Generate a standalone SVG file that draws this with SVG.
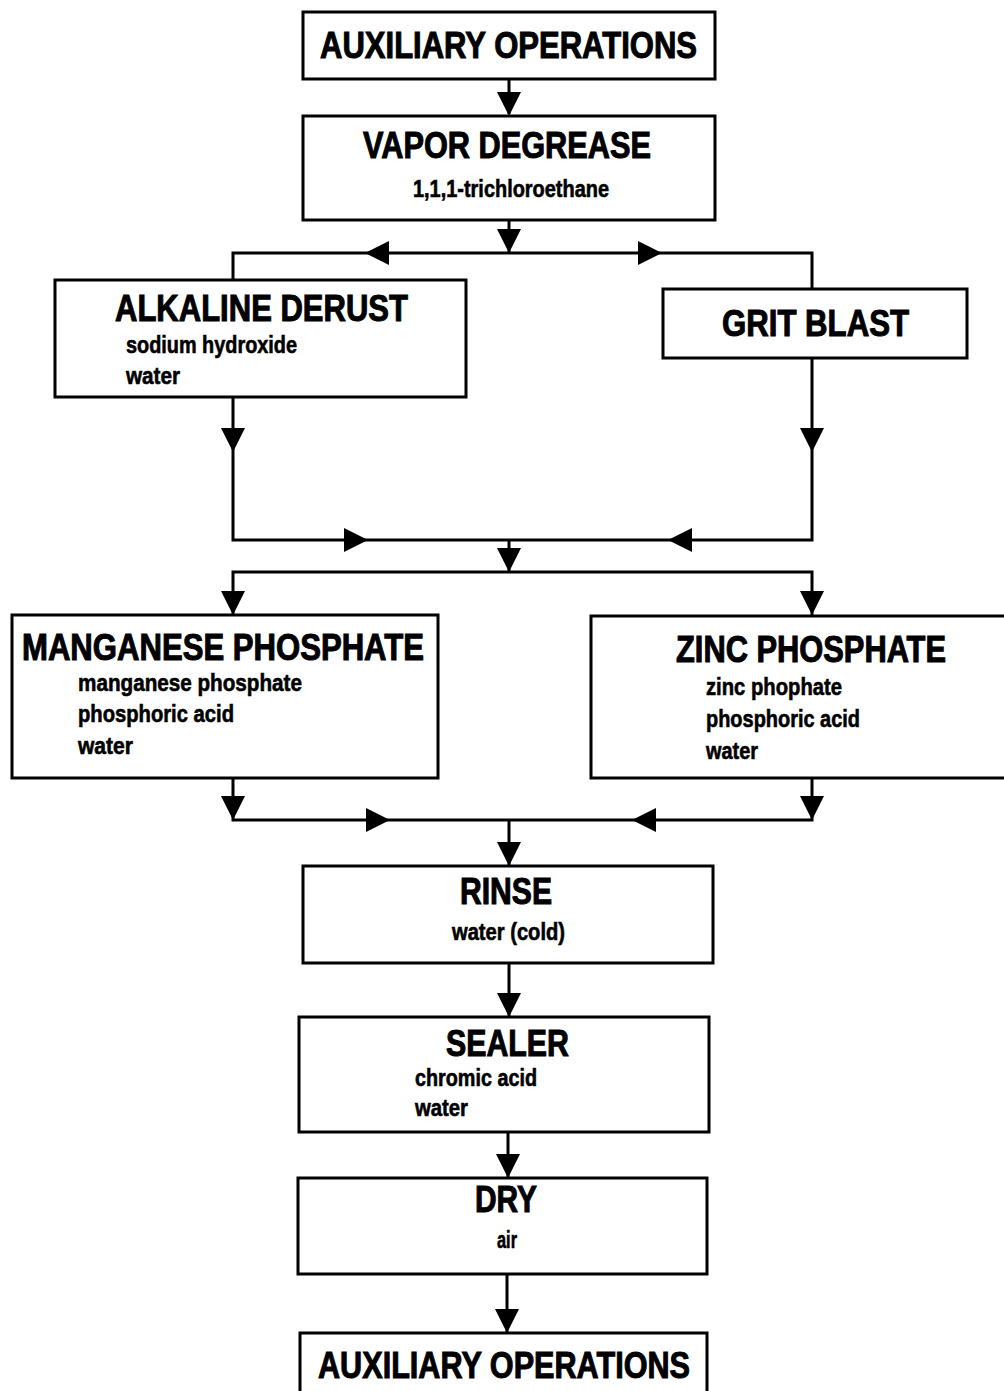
<svg xmlns="http://www.w3.org/2000/svg" xmlns:xlink="http://www.w3.org/1999/xlink" width="1004" height="1391" viewBox="0 0 1004 1391">
<style>
.box{fill:#fff;stroke:#000;stroke-width:3}
.ln{fill:none;stroke:#000;stroke-width:3;stroke-linejoin:miter}
.h{font-family:"Liberation Sans",Arial,sans-serif;font-weight:bold;font-size:36px;fill:#000;stroke:#000;stroke-width:1}
.s{font-family:"Liberation Sans",Arial,sans-serif;font-weight:bold;font-size:24px;fill:#000;stroke:#000;stroke-width:0.6}
</style>
<defs>
<path id="ad" d="M-12,-24 L12,-24 L0,0 Z" fill="#000"/>
</defs>
<rect width="1004" height="1391" fill="#fff"/>
<g id="connectors">
<path class="ln" d="M509,79 V114"/>
<path class="ln" d="M509,220 V253"/>
<path class="ln" d="M233,280 V253 H812 V289"/>
<path class="ln" d="M233,397 V540 H812 V358"/>
<path class="ln" d="M509,540 V572"/>
<path class="ln" d="M233,615 V572 H812 V615"/>
<path class="ln" d="M233,778 V820 H812 V778"/>
<path class="ln" d="M509,820 V866"/>
<path class="ln" d="M509,963 V1017"/>
<path class="ln" d="M508,1132 V1178"/>
<path class="ln" d="M507,1274 V1333"/>
<use xlink:href="#ad" transform="translate(509,116)"/>
<use xlink:href="#ad" transform="translate(509,253)"/>
<use xlink:href="#ad" transform="translate(365,253) rotate(90)"/>
<use xlink:href="#ad" transform="translate(662,253) rotate(-90)"/>
<use xlink:href="#ad" transform="translate(233,452)"/>
<use xlink:href="#ad" transform="translate(812,452)"/>
<use xlink:href="#ad" transform="translate(368,540) rotate(-90)"/>
<use xlink:href="#ad" transform="translate(668,540) rotate(90)"/>
<use xlink:href="#ad" transform="translate(509,572)"/>
<use xlink:href="#ad" transform="translate(233,615)"/>
<use xlink:href="#ad" transform="translate(812,615)"/>
<use xlink:href="#ad" transform="translate(233,820)"/>
<use xlink:href="#ad" transform="translate(812,820)"/>
<use xlink:href="#ad" transform="translate(390,820) rotate(-90)"/>
<use xlink:href="#ad" transform="translate(632,820) rotate(90)"/>
<use xlink:href="#ad" transform="translate(509,866)"/>
<use xlink:href="#ad" transform="translate(509,1017)"/>
<use xlink:href="#ad" transform="translate(508,1178)"/>
<use xlink:href="#ad" transform="translate(507,1333)"/>
</g>
<g id="aux-top">
<rect class="box" x="303" y="12" width="412" height="67"/>
<text class="h" x="320" y="58" textLength="377" lengthAdjust="spacingAndGlyphs">AUXILIARY OPERATIONS</text>
</g>
<g id="vapor-degrease">
<rect class="box" x="303" y="116" width="412" height="104"/>
<text class="h" x="363" y="158" textLength="288" lengthAdjust="spacingAndGlyphs">VAPOR DEGREASE</text>
<text class="s" x="413" y="197" textLength="196" lengthAdjust="spacingAndGlyphs">1,1,1-trichloroethane</text>
</g>
<g id="alkaline-derust">
<rect class="box" x="55" y="280" width="411" height="117"/>
<text class="h" x="115" y="321" textLength="293" lengthAdjust="spacingAndGlyphs">ALKALINE DERUST</text>
<text class="s" x="126" y="353" textLength="171" lengthAdjust="spacingAndGlyphs">sodium hydroxide</text>
<text class="s" x="126" y="384" textLength="54" lengthAdjust="spacingAndGlyphs">water</text>
</g>
<g id="grit-blast">
<rect class="box" x="663" y="289" width="304" height="69"/>
<text class="h" x="722" y="336" textLength="187" lengthAdjust="spacingAndGlyphs">GRIT BLAST</text>
</g>
<g id="manganese-phosphate">
<rect class="box" x="12" y="615" width="426" height="163"/>
<text class="h" x="22" y="660" textLength="402" lengthAdjust="spacingAndGlyphs">MANGANESE PHOSPHATE</text>
<text class="s" x="78" y="691" textLength="224" lengthAdjust="spacingAndGlyphs">manganese phosphate</text>
<text class="s" x="78" y="722" textLength="156" lengthAdjust="spacingAndGlyphs">phosphoric acid</text>
<text class="s" x="78" y="754" textLength="55" lengthAdjust="spacingAndGlyphs">water</text>
</g>
<g id="zinc-phosphate">
<rect class="box" x="591" y="616" width="430" height="162"/>
<text class="h" x="676" y="662" textLength="270" lengthAdjust="spacingAndGlyphs">ZINC PHOSPHATE</text>
<text class="s" x="706" y="695" textLength="136" lengthAdjust="spacingAndGlyphs">zinc phophate</text>
<text class="s" x="706" y="727" textLength="154" lengthAdjust="spacingAndGlyphs">phosphoric acid</text>
<text class="s" x="706" y="759" textLength="52" lengthAdjust="spacingAndGlyphs">water</text>
</g>
<g id="rinse">
<rect class="box" x="303" y="866" width="410" height="97"/>
<text class="h" x="460" y="904" textLength="92" lengthAdjust="spacingAndGlyphs">RINSE</text>
<text class="s" x="452" y="940" textLength="113" lengthAdjust="spacingAndGlyphs">water (cold)</text>
</g>
<g id="sealer">
<rect class="box" x="299" y="1017" width="410" height="115"/>
<text class="h" x="446" y="1056" textLength="123" lengthAdjust="spacingAndGlyphs">SEALER</text>
<text class="s" x="415" y="1086" textLength="122" lengthAdjust="spacingAndGlyphs">chromic acid</text>
<text class="s" x="415" y="1116" textLength="53" lengthAdjust="spacingAndGlyphs">water</text>
</g>
<g id="dry">
<rect class="box" x="298" y="1178" width="409" height="96"/>
<text class="h" x="475" y="1212" textLength="62" lengthAdjust="spacingAndGlyphs">DRY</text>
<text class="s" x="497" y="1248" textLength="20" lengthAdjust="spacingAndGlyphs">air</text>
</g>
<g id="aux-bottom">
<rect class="box" x="300" y="1333" width="407" height="75"/>
<text class="h" x="318" y="1378" textLength="372" lengthAdjust="spacingAndGlyphs">AUXILIARY OPERATIONS</text>
</g>
</svg>
